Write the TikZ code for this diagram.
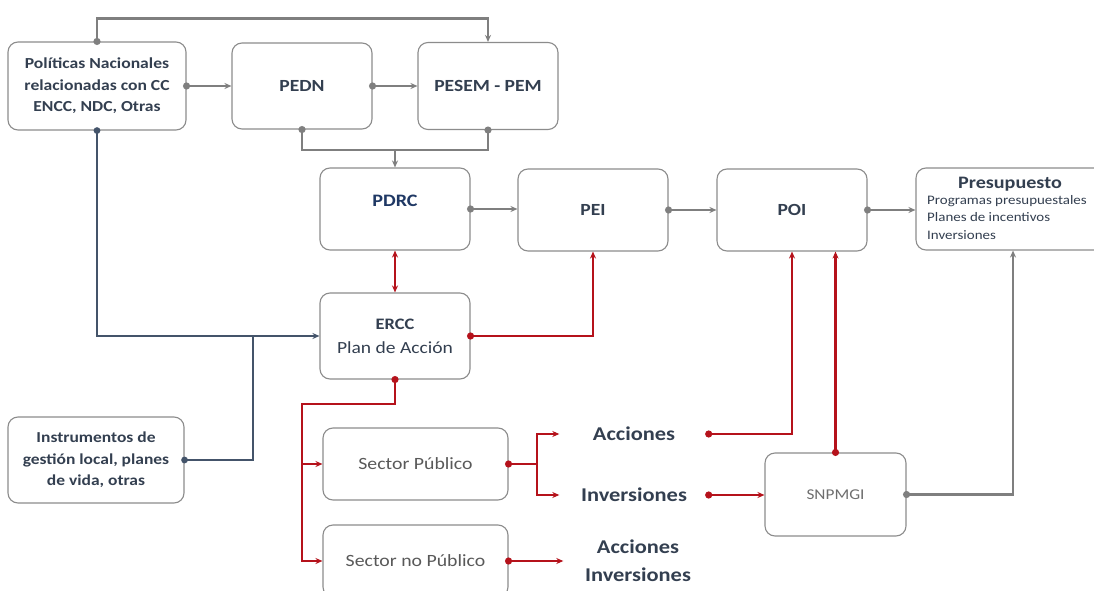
\documentclass[tikz,border=0pt]{standalone}
\usepackage{fontspec}
\setmainfont{Carlito}[FakeStretch=1.15]
\usetikzlibrary{arrows.meta}
\definecolor{cgray}{HTML}{7F7F7F}
\definecolor{cblue}{HTML}{44546A}
\definecolor{cred}{HTML}{B5121B}
\definecolor{ctext}{HTML}{333F50}
\definecolor{cnavy}{HTML}{1F3864}
\definecolor{cbord}{HTML}{8C8C8C}
\definecolor{csoft}{HTML}{595959}
\definecolor{clight}{HTML}{6E6E6E}
\begin{document}
\begin{tikzpicture}[x=1pt,y=-1pt,
  box/.style={draw=cbord,line width=1.1pt,rounded corners=10pt,fill=white,text=ctext,align=center,inner sep=0pt},
  gline/.style={draw=cgray,line width=2.6pt,-{Stealth[length=7pt,width=6pt]}},
  rline/.style={draw=cred,line width=2.2pt,-{Stealth[length=7pt,width=6pt]}},
  bline/.style={draw=cblue,line width=2.2pt,-{Stealth[length=7pt,width=6pt]}},
  gdot/.style={fill=cgray},
  rdot/.style={fill=cred},
  bdot/.style={fill=cblue},
  big/.style={font=\fontsize{17}{20}\selectfont\bfseries},
  lbl/.style={text=ctext,font=\fontsize{19.5}{28}\selectfont\bfseries,inner sep=0pt,align=center}
]
\clip (0,0) rectangle (1094,591);
\fill[white] (0,0) rectangle (1094,591);

% boxes
\node[box,minimum width=178pt,minimum height=88pt,font=\fontsize{15.3}{21.5}\selectfont\bfseries] (pol) at (97,86) {Políticas Nacionales\\relacionadas con CC\\ENCC, NDC, Otras};
\node[box,big,minimum width=140pt,minimum height=86pt] (pedn) at (302,86) {PEDN};
\node[box,big,minimum width=140pt,minimum height=87pt] (pesem) at (488,86) {PESEM - PEM};
\node[box,minimum width=150pt,minimum height=82pt] (pdrc) at (395,209) {};
\node[text=cnavy,font=\fontsize{17.5}{20}\selectfont\bfseries] (pdrct) at (395,201) {PDRC};
\node[box,big,minimum width=150pt,minimum height=82pt] (pei) at (593,210) {PEI};
\node[box,big,minimum width=150pt,minimum height=82pt] (poi) at (792,210) {POI};
\node[box,minimum width=194pt,minimum height=82pt] (pres) at (1013,209) {};
\node[text=ctext,font=\fontsize{17.5}{20}\selectfont\bfseries] (prest) at (1010,184) {Presupuesto};
\node[text=ctext,font=\fontsize{13}{17.5}\selectfont,align=left,anchor=north west,inner sep=0pt] (presl) at (927,195) {Programas presupuestales\\Planes de incentivos\\Inversiones};
\node[box,minimum width=150pt,minimum height=86pt,font=\fontsize{17}{24}\selectfont] (ercc) at (395,336) {{\fontsize{16}{24}\selectfont\bfseries ERCC}\\Plan de Acción};
\node[box,minimum width=176pt,minimum height=86pt,font=\fontsize{15.2}{21.5}\selectfont\bfseries] (inst) at (96,460) {Instrumentos de\\gestión local, planes\\de vida, otras};
\node[box,minimum width=185pt,minimum height=72pt,text=csoft,font=\fontsize{17.2}{20}\selectfont] (sp) at (415.5,464) {Sector Público};
\node[box,minimum width=185pt,minimum height=72pt] (snp) at (415.5,561) {};
\node[text=csoft,font=\fontsize{17.2}{20}\selectfont] (snpt) at (415.5,561) {Sector no Público};
\node[box,minimum width=141pt,minimum height=83pt,text=clight,font=\fontsize{15}{18}\selectfont] (sng) at (835.5,494.5) {SNPMGI};

% labels
\node[lbl,minimum width=149pt,minimum height=20pt] (acc) at (634,434) {Acciones};
\node[lbl,minimum width=149pt,minimum height=20pt] (inv) at (634,495) {Inversiones};
\node[lbl,minimum width=149pt,minimum height=20pt] (accinv) at (638,561) {Acciones\\Inversiones};

% gray connectors
\draw[gline] (pol.north) -- ++(0,-23) -| (pesem.north);
\draw[gline] (pol.east) -- (pedn.west);
\draw[gline] (pedn.east) -- (pesem.west);
\coordinate (mid) at (395,150);
\draw[draw=cgray,line width=2.6pt] (pedn.south) |- (mid) -| (pesem.south);
\draw[gline] (mid) -- (pdrc.north);
\draw[gline] (pdrc.east) -- (pei.west |- pdrc.east);
\draw[gline] (pei.east) -- (poi.west);
\draw[gline] (poi.east) -- (pres.west |- poi.east);
\draw[gline] (sng.east) -| (pres.south);
\foreach \p in {pol.north,pol.east,pedn.east,pedn.south,pesem.south,pdrc.east,pei.east,poi.east,sng.east}
  \fill[gdot] (\p) circle (3.6pt);

% blue connectors
\coordinate (bj) at (253,336);
\draw[bline] (pol.south) |- (ercc.west);
\draw[draw=cblue,line width=2.2pt] (inst.east) -| (bj);
\fill[bdot] (pol.south) circle (3.4pt);
\fill[bdot] (inst.east) circle (3.4pt);

% red connectors
\draw[draw=cred,line width=2.2pt,{Stealth[length=7pt,width=6pt]}-{Stealth[length=7pt,width=6pt]}] (pdrc.south) -- (ercc.north);
\draw[rline] (ercc.east) -| (pei.south);
\coordinate (rb) at (302,404);
\draw[rline] (ercc.south) |- (rb) |- (snp.west);
\draw[rline] (rb |- sp.west) -- (sp.west);
\coordinate (sb) at (537,464);
\draw[draw=cred,line width=2.2pt] (sp.east) -- (sb);
\draw[rline] (sb) |- (acc.west);
\draw[rline] (sb) |- (inv.west);
\draw[rline] (snp.east) -- (accinv.west);
\draw[rline] (acc.east) -| (poi.south);
\draw[rline] (inv.east) -- (sng.west |- inv.east);
\draw[rline] (sng.north) -- (sng.north |- poi.south);
\foreach \p in {ercc.east,ercc.south,sp.east,snp.east,acc.east,inv.east,sng.north}
  \fill[rdot] (\p) circle (3.6pt);
\end{tikzpicture}
\end{document}
